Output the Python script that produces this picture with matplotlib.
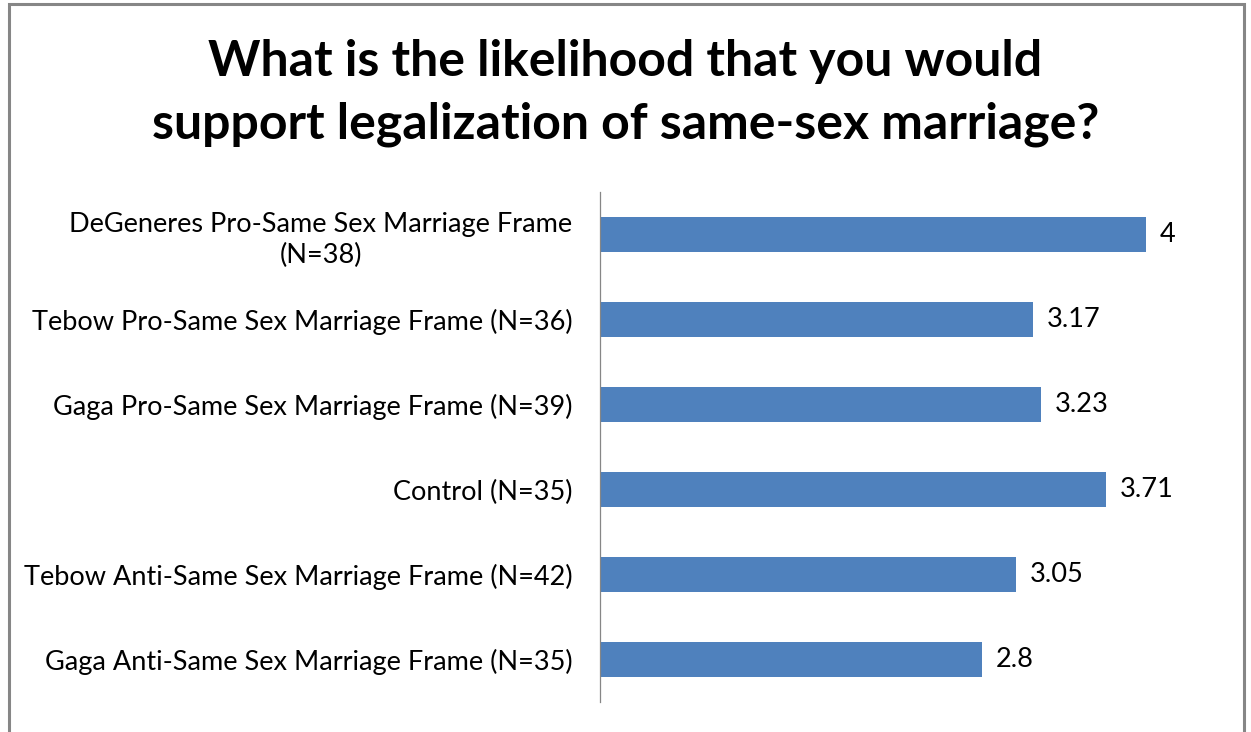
import matplotlib
matplotlib.use("Agg")
import matplotlib.pyplot as plt
from matplotlib.patches import Rectangle

categories = [
    "DeGeneres Pro-Same Sex Marriage Frame\n(N=38)",
    "Tebow Pro-Same Sex Marriage Frame (N=36)",
    "Gaga Pro-Same Sex Marriage Frame (N=39)",
    "Control (N=35)",
    "Tebow Anti-Same Sex Marriage Frame (N=42)",
    "Gaga Anti-Same Sex Marriage Frame (N=35)",
]
values = [4, 3.17, 3.23, 3.71, 3.05, 2.8]
value_labels = ["4", "3.17", "3.23", "3.71", "3.05", "2.8"]
title = "What is the likelihood that you would\nsupport legalization of same-sex marriage?"

W, H = 1251, 732
DPI = 100
plt.rcParams['font.family'] = ['Lato', 'DejaVu Sans']

fig = plt.figure(figsize=(W / DPI, H / DPI), dpi=DPI)
fig.patch.set_facecolor("white")

# chart frame (bottom edge runs off the canvas)
fig.add_artist(Rectangle((9 / W, -0.05), (1244 - 9) / W, 1.05 - 4 / H,
                         transform=fig.transFigure, fill=False,
                         edgecolor="#868686", linewidth=2.2))

ax_left, ax_right = 600 / W, 1214 / W
ax_top, ax_bottom = 1 - 192 / H, 1 - 702 / H
ax = fig.add_axes([ax_left, ax_bottom, ax_right - ax_left, ax_top - ax_bottom])

y = list(range(len(categories)))
ax.barh(y, values, height=0.41, color="#4F81BD")
ax.set_ylim(len(categories) - 0.5, -0.5)
ax.set_xlim(0, 4.5)

for yi, v, lab in zip(y, values, value_labels):
    ax.annotate(lab, (v, yi), xytext=(10, 0), textcoords="offset points",
                va="center", ha="left", fontsize=19.5, color="black")

ax.set_yticks(y)
ax.set_yticklabels(categories, fontsize=19.5, ha="right",
                   multialignment="center", linespacing=1.3)
ax.tick_params(axis="y", length=0, pad=20)

ax.set_xticks([])
for s in ["top", "right", "bottom"]:
    ax.spines[s].set_visible(False)
ax.spines["left"].set_color("#868686")
ax.spines["left"].set_linewidth(0.9)

fig.text(0.5, 1 - 93 / H, title, ha="center", va="center", fontsize=36,
         fontweight="bold", linespacing=1.45)

fig.savefig("out.png", dpi=DPI)
